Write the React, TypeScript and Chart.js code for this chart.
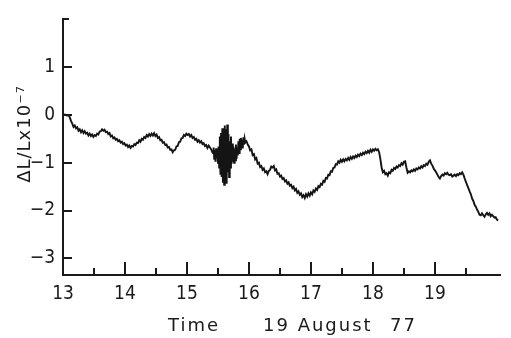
import React, { useEffect, useRef } from "react";
import { Chart, registerables } from "chart.js";

Chart.register(...registerables);

// [hour, ΔL/L ×10⁻⁷]
const traceMorning: [number, number][] = [
  [13.00, 0.00], [13.03, 0.01], [13.06, -0.01], [13.09, 0.00], [13.11, -0.05], [13.13, -0.13], [13.15, -0.18],
  [13.17, -0.25], [13.19, -0.22], [13.21, -0.28], [13.23, -0.26], [13.25, -0.33], [13.27, -0.30], [13.29, -0.36],
  [13.31, -0.32], [13.33, -0.38], [13.35, -0.34], [13.37, -0.39], [13.39, -0.37], [13.41, -0.43], [13.43, -0.39],
  [13.45, -0.44], [13.47, -0.41], [13.49, -0.46], [13.51, -0.42], [13.53, -0.44], [13.55, -0.39], [13.57, -0.41],
  [13.59, -0.35], [13.61, -0.34], [13.63, -0.30], [13.65, -0.33], [13.67, -0.31], [13.69, -0.36], [13.71, -0.35],
  [13.73, -0.40], [13.75, -0.38], [13.77, -0.45], [13.79, -0.43], [13.81, -0.49], [13.83, -0.47], [13.85, -0.52],
  [13.87, -0.50], [13.89, -0.55], [13.91, -0.53], [13.93, -0.58], [13.95, -0.56], [13.97, -0.61], [13.99, -0.59],
  [14.01, -0.64], [14.03, -0.62], [14.05, -0.67], [14.07, -0.64], [14.09, -0.69], [14.11, -0.65], [14.13, -0.66],
  [14.15, -0.61], [14.17, -0.63], [14.19, -0.58], [14.21, -0.59], [14.23, -0.53], [14.25, -0.56], [14.27, -0.50],
  [14.29, -0.52], [14.31, -0.46], [14.33, -0.48], [14.35, -0.42], [14.37, -0.45], [14.39, -0.40], [14.41, -0.44],
  [14.43, -0.39], [14.45, -0.43], [14.47, -0.38], [14.49, -0.44], [14.51, -0.41], [14.53, -0.48], [14.55, -0.46],
  [14.57, -0.53], [14.59, -0.52], [14.61, -0.58], [14.63, -0.57], [14.65, -0.63], [14.67, -0.62], [14.69, -0.68],
  [14.71, -0.67], [14.73, -0.73], [14.75, -0.72], [14.77, -0.78], [14.79, -0.74], [14.81, -0.73], [14.83, -0.66],
  [14.85, -0.65], [14.87, -0.57], [14.89, -0.56], [14.91, -0.49], [14.93, -0.48], [14.95, -0.42], [14.97, -0.44],
  [14.99, -0.39], [15.01, -0.42], [15.03, -0.40], [15.05, -0.45], [15.07, -0.42], [15.09, -0.48], [15.11, -0.46],
  [15.13, -0.52], [15.15, -0.50], [15.17, -0.56], [15.19, -0.53], [15.21, -0.58], [15.23, -0.55], [15.25, -0.61],
  [15.27, -0.59], [15.29, -0.65], [15.31, -0.63], [15.33, -0.69], [15.35, -0.64], [15.37, -0.68], [15.39, -0.72],
  [15.41, -0.78],
];

const traceDisturbed: [number, number][] = [
  [15.42, -0.80], [15.43, -0.68], [15.44, -0.92], [15.45, -0.74], [15.46, -0.98], [15.47, -0.70], [15.48, -0.90],
  [15.49, -0.78], [15.50, -1.02], [15.51, -0.66], [15.52, -1.10], [15.53, -0.45], [15.54, -1.25], [15.55, -0.38],
  [15.56, -1.30], [15.57, -0.28], [15.58, -1.42], [15.59, -0.35], [15.60, -1.46], [15.61, -0.22], [15.62, -1.38],
  [15.63, -0.30], [15.64, -1.44], [15.65, -0.20], [15.66, -1.20], [15.67, -0.40], [15.68, -1.30], [15.69, -0.55],
  [15.70, -1.10], [15.71, -0.45], [15.72, -1.02], [15.73, -0.60], [15.74, -0.98], [15.75, -0.66], [15.76, -1.00],
  [15.77, -0.70], [15.78, -0.95], [15.79, -0.62], [15.80, -0.92], [15.81, -0.68], [15.82, -0.85], [15.83, -0.55],
  [15.84, -0.80], [15.85, -0.50], [15.86, -0.72], [15.87, -0.48], [15.88, -0.66], [15.89, -0.52], [15.90, -0.70],
  [15.91, -0.47], [15.92, -0.62], [15.93, -0.50], [15.94, -0.58],
];

const traceAfternoon: [number, number][] = [
  [15.96, -0.55], [15.98, -0.62], [16.00, -0.66], [16.02, -0.74], [16.04, -0.72], [16.06, -0.84], [16.08, -0.82],
  [16.10, -0.93], [16.12, -0.90], [16.14, -1.02], [16.16, -1.00], [16.18, -1.09], [16.20, -1.07], [16.22, -1.15],
  [16.24, -1.12], [16.26, -1.20], [16.28, -1.18], [16.30, -1.24], [16.32, -1.17], [16.34, -1.15], [16.36, -1.08],
  [16.38, -1.10], [16.40, -1.07], [16.42, -1.16], [16.44, -1.14], [16.46, -1.23], [16.48, -1.22], [16.50, -1.29],
  [16.52, -1.27], [16.54, -1.34], [16.56, -1.32], [16.58, -1.39], [16.60, -1.37], [16.62, -1.44], [16.64, -1.41],
  [16.66, -1.48], [16.68, -1.46], [16.70, -1.53], [16.72, -1.50], [16.74, -1.58], [16.76, -1.55], [16.78, -1.63],
  [16.80, -1.60], [16.82, -1.67], [16.84, -1.64], [16.86, -1.72], [16.88, -1.68], [16.90, -1.74], [16.92, -1.66],
  [16.94, -1.71], [16.96, -1.64], [16.98, -1.69], [17.00, -1.62], [17.02, -1.66], [17.04, -1.58], [17.06, -1.61],
  [17.08, -1.54], [17.10, -1.57], [17.12, -1.49], [17.14, -1.51], [17.16, -1.44], [17.18, -1.46], [17.20, -1.38],
  [17.22, -1.40], [17.24, -1.32], [17.26, -1.33], [17.28, -1.25], [17.30, -1.26], [17.32, -1.18], [17.34, -1.19],
  [17.36, -1.11], [17.38, -1.10], [17.40, -1.03], [17.42, -1.04], [17.44, -0.97], [17.46, -1.00], [17.48, -0.94],
  [17.50, -0.98], [17.52, -0.93], [17.54, -0.97], [17.56, -0.92], [17.58, -0.95], [17.60, -0.90], [17.62, -0.94],
  [17.64, -0.88], [17.66, -0.92], [17.68, -0.87], [17.70, -0.90], [17.72, -0.85], [17.74, -0.88], [17.76, -0.83],
  [17.78, -0.86], [17.80, -0.81], [17.82, -0.84], [17.84, -0.79], [17.86, -0.82], [17.88, -0.77], [17.90, -0.80],
  [17.92, -0.75], [17.94, -0.79], [17.96, -0.73], [17.98, -0.77], [18.00, -0.72], [18.02, -0.75], [18.04, -0.71],
  [18.06, -0.74], [18.08, -0.72], [18.10, -0.78],
];

const traceEvening: [number, number][] = [
  [18.12, -0.92], [18.14, -1.10], [18.16, -1.20], [18.18, -1.17], [18.20, -1.24], [18.22, -1.22], [18.24, -1.27],
  [18.26, -1.20], [18.28, -1.22], [18.30, -1.15], [18.32, -1.17], [18.34, -1.11], [18.36, -1.13], [18.38, -1.08],
  [18.40, -1.10], [18.42, -1.05], [18.44, -1.07], [18.46, -1.01], [18.48, -1.04], [18.50, -0.98], [18.52, -0.97],
  [18.54, -1.10], [18.56, -1.21], [18.58, -1.18], [18.60, -1.20], [18.62, -1.16], [18.64, -1.18], [18.66, -1.14],
  [18.68, -1.17], [18.70, -1.12], [18.72, -1.14], [18.74, -1.10], [18.76, -1.12], [18.78, -1.07], [18.80, -1.10],
  [18.82, -1.05], [18.84, -1.07], [18.86, -1.02], [18.88, -1.04], [18.90, -0.98], [18.92, -0.95], [18.94, -1.02],
  [18.96, -1.06], [18.98, -1.12], [19.00, -1.16], [19.02, -1.20], [19.04, -1.25], [19.06, -1.30], [19.08, -1.33],
  [19.10, -1.28], [19.12, -1.25], [19.14, -1.27], [19.16, -1.22], [19.18, -1.24], [19.20, -1.21], [19.22, -1.25],
  [19.24, -1.26], [19.26, -1.24], [19.28, -1.29], [19.30, -1.27], [19.32, -1.25], [19.34, -1.28], [19.36, -1.24],
  [19.38, -1.26], [19.40, -1.22], [19.42, -1.24], [19.44, -1.20], [19.46, -1.25], [19.48, -1.33], [19.50, -1.40],
  [19.52, -1.47], [19.54, -1.53], [19.56, -1.60], [19.58, -1.66], [19.60, -1.75], [19.62, -1.80], [19.64, -1.88],
  [19.66, -1.92], [19.68, -1.98], [19.70, -2.03], [19.72, -2.09], [19.74, -2.10], [19.76, -2.06], [19.78, -2.10],
  [19.80, -2.13], [19.82, -2.08], [19.84, -2.05], [19.86, -2.09], [19.88, -2.06], [19.90, -2.12], [19.92, -2.09],
  [19.94, -2.12], [19.96, -2.15], [19.98, -2.14], [20.00, -2.19], [20.02, -2.21],
];

const xTickValues: number[] = [13, 14, 15, 16, 17, 18, 19];
const xMajorMarks: number[] = [14, 15, 16, 17, 18, 19];
const xMinorMarks: number[] = [13.5, 14.5, 15.5, 16.5, 17.5, 18.5, 19.5];
const yTickValues: number[] = [-3, -2, -1, 0, 1];
const yMarks: number[] = [-3, -2, -1, 0, 1, 2];
const yTitle = "ΔL/Lx10⁻⁷";
const xTitleParts: string[] = ["Time", "19 August", "77"];

const INK = "#1a1a1a";
const NUM_FONT = '"Liberation Sans Narrow", "DejaVu Sans Condensed", "Liberation Sans", sans-serif';
const TITLE_FONT = '"DejaVu Sans", sans-serif';

const marksPlugin = {
  id: "marks",
  afterDraw(chart: any) {
    const { ctx, chartArea, scales } = chart;
    const x = scales.x;
    const y = scales.y;
    ctx.save();
    ctx.strokeStyle = INK;
    ctx.lineWidth = 2;
    ctx.beginPath();
    for (const v of xMajorMarks) {
      const px = Math.round(x.getPixelForValue(v));
      ctx.moveTo(px, chartArea.bottom);
      ctx.lineTo(px, chartArea.bottom - 13);
    }
    for (const v of xMinorMarks) {
      const px = Math.round(x.getPixelForValue(v));
      ctx.moveTo(px, chartArea.bottom);
      ctx.lineTo(px, chartArea.bottom - 7);
    }
    for (const v of yMarks) {
      const py = Math.round(y.getPixelForValue(v));
      ctx.moveTo(chartArea.left, py);
      ctx.lineTo(chartArea.left + (v === 2 ? 6 : 9), py);
    }
    ctx.stroke();

    ctx.fillStyle = INK;
    (ctx as any).letterSpacing = "1px";
    ctx.font = `18px ${TITLE_FONT}`;
    ctx.textAlign = "center";
    ctx.textBaseline = "middle";
    ctx.save();
    ctx.translate(25, 134);
    ctx.rotate(-Math.PI / 2);
    ctx.fillText(yTitle, 0, 0);
    ctx.restore();

    (ctx as any).letterSpacing = "2px";
    ctx.font = `18px ${TITLE_FONT}`;
    ctx.textAlign = "left";
    ctx.textBaseline = "alphabetic";
    const lefts = [168, 263, 390];
    xTitleParts.forEach((t, i) => ctx.fillText(t, lefts[i], 331));
    ctx.restore();
  },
};

export default function App() {
  const ref = useRef<HTMLCanvasElement | null>(null);
  useEffect(() => {
    document.body.style.margin = "0";
    const canvas = ref.current;
    if (!canvas) return;
    const data = [...traceMorning, ...traceDisturbed, ...traceAfternoon, ...traceEvening].map(([h, v]) => ({
      x: h,
      y: v,
    }));
    const chart = new Chart(canvas, {
      type: "line",
      data: {
        datasets: [
          {
            data,
            borderColor: "#141414",
            borderWidth: 1.9,
            pointRadius: 0,
            tension: 0,
            fill: false,
          },
        ],
      },
      options: {
        animation: false,
        responsive: true,
        maintainAspectRatio: false,
        layout: { padding: { top: 12, right: 11, left: 0, bottom: 0 } },
        plugins: { legend: { display: false }, tooltip: { enabled: false } },
        scales: {
          x: {
            type: "linear",
            min: 13,
            max: 20.05,
            afterBuildTicks: (s: any) => {
              s.ticks = xTickValues.map((v) => ({ value: v }));
            },
            afterFit: (s: any) => {
              s.height = 63;
            },
            grid: { display: false, drawTicks: false },
            border: { display: true, color: INK, width: 2 },
            ticks: {
              padding: 8,
              color: INK,
              maxRotation: 0,
              autoSkip: false,
              font: { family: NUM_FONT, size: 19 },
              callback: (v: any) => String(v),
            },
          },
          y: {
            type: "linear",
            min: -3.35,
            max: 2.0,
            afterBuildTicks: (s: any) => {
              s.ticks = yTickValues.map((v) => ({ value: v }));
            },
            afterFit: (s: any) => {
              s.width = 63;
            },
            grid: { display: false, drawTicks: false },
            border: { display: true, color: INK, width: 2 },
            ticks: {
              padding: 8,
              color: INK,
              autoSkip: false,
              font: { family: NUM_FONT, size: 19 },
              callback: (v: any) => (Number(v) < 0 ? "−" + Math.abs(Number(v)) : String(v)),
            },
          },
        },
      },
      plugins: [marksPlugin],
    });
    return () => chart.destroy();
  }, []);
  return (
    <div style={{ position: "absolute", left: 0, top: 0, width: 511, height: 338, background: "#fff" }}>
      <canvas ref={ref} />
    </div>
  );
}
